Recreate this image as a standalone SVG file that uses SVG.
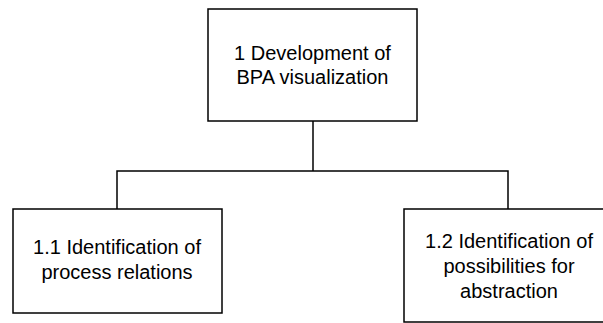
<svg xmlns="http://www.w3.org/2000/svg" width="603" height="323" viewBox="0 0 603 323">
<style>
.box{fill:#fff;stroke:#000;stroke-width:1.5}
.con{fill:none;stroke:#000;stroke-width:1.5}
text{font-family:"Liberation Sans",Arial,sans-serif;font-size:20px;fill:#000;text-anchor:middle}
</style>
<rect width="603" height="323" fill="#fff"/>
<g id="connectors">
<path class="con" d="M313,121 V171"/>
<path class="con" d="M117,209 V171 H508 V209"/>
</g>
<g id="n1">
<rect class="box" x="208" y="9" width="209" height="112"/>
<text x="312.5" y="60">1 Development of</text>
<text x="312.5" y="84">BPA visualization</text>
</g>
<g id="n11">
<rect class="box" x="13" y="209" width="209" height="104"/>
<text x="117" y="254">1.1 Identification of</text>
<text x="117" y="279">process relations</text>
</g>
<g id="n12">
<rect class="box" x="404" y="209" width="209" height="113"/>
<text x="509" y="248">1.2 Identification of</text>
<text x="509" y="273">possibilities for</text>
<text x="509" y="298">abstraction</text>
</g>
</svg>
